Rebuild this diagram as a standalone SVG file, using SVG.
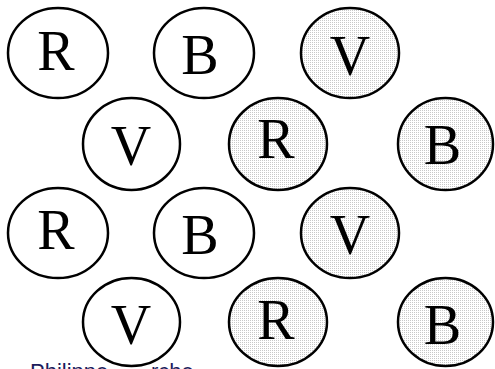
<svg xmlns="http://www.w3.org/2000/svg" width="495" height="369" viewBox="0 0 495 369">
<defs>
<pattern id="dots" width="2" height="2" patternUnits="userSpaceOnUse">
<rect width="2" height="2" fill="#ffffff"/>
<rect width="1" height="1" fill="#c8c8c8"/>
</pattern>
<style>
.c{fill:#ffffff;stroke:#000000;stroke-width:2.5}
.s{fill:url(#dots);stroke:#000000;stroke-width:2.5}
.t{font-family:"Liberation Serif","Times New Roman",serif;font-size:56px;fill:#000000;text-anchor:middle}
.a{font-family:"Liberation Sans",Arial,sans-serif;font-size:22px;fill:#1c1c5c}
</style>
</defs>
<rect width="495" height="369" fill="#ffffff"/>
<g id="author">
<text class="a" x="30" y="379">Philippe</text>
<text class="a" x="151" y="379">rche</text>
</g>
<g id="n1"><ellipse class="c" cx="58" cy="53" rx="50" ry="45"/><text class="t" x="56" y="70">R</text></g>
<g id="n2"><ellipse class="c" cx="204" cy="53" rx="50" ry="45"/><text class="t" x="200" y="74">B</text></g>
<g id="n3"><ellipse class="s" cx="350" cy="53" rx="49" ry="45"/><text class="t" x="350" y="75">V</text></g>
<g id="n4"><ellipse class="c" cx="131.5" cy="144" rx="48.5" ry="46"/><text class="t" x="131" y="165">V</text></g>
<g id="n5"><ellipse class="s" cx="278" cy="144" rx="49" ry="46"/><text class="t" x="276" y="158">R</text></g>
<g id="n6"><ellipse class="s" cx="445.5" cy="144" rx="47.5" ry="46"/><text class="t" x="442.5" y="164">B</text></g>
<g id="n7"><ellipse class="c" cx="58" cy="233" rx="50" ry="45"/><text class="t" x="56" y="249">R</text></g>
<g id="n8"><ellipse class="c" cx="204" cy="233" rx="50" ry="45"/><text class="t" x="200" y="254">B</text></g>
<g id="n9"><ellipse class="s" cx="350" cy="233" rx="49" ry="45"/><text class="t" x="350" y="254">V</text></g>
<g id="n10"><ellipse class="c" cx="131.5" cy="322" rx="48.5" ry="44"/><text class="t" x="131" y="344">V</text></g>
<g id="n11"><ellipse class="s" cx="278" cy="322" rx="49" ry="44"/><text class="t" x="276" y="339">R</text></g>
<g id="n12"><ellipse class="s" cx="445.5" cy="322" rx="47.5" ry="44"/><text class="t" x="442.5" y="344">B</text></g>
</svg>
